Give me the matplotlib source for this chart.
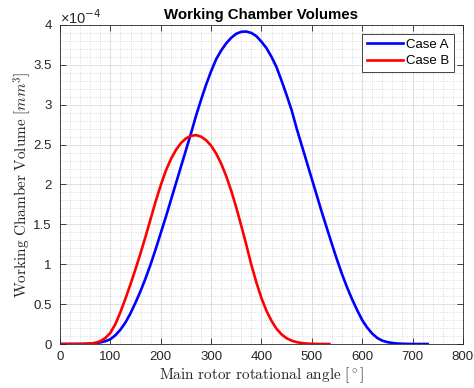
import matplotlib
matplotlib.use("Agg")
import matplotlib.pyplot as plt
from matplotlib.ticker import MultipleLocator, FormatStrFormatter

plt.rcParams["font.family"] = ["Liberation Sans", "DejaVu Sans"]
plt.rcParams["mathtext.fontset"] = "cm"

# rotation angle samples [deg]
angle_a = list(range(0, 740, 10))
angle_b = list(range(0, 540, 10)) + [535]

# working chamber volume, in units of 1e-4 mm^3
volume_a = [
    0, 0, 0, 0, 0.001, 0.002, 0.005, 0.01, 0.02, 0.035,
    0.06, 0.11, 0.18, 0.27, 0.385, 0.52, 0.665, 0.825, 1.00, 1.19,
    1.39, 1.59, 1.80, 2.01, 2.22, 2.43, 2.64, 2.86, 3.06, 3.25,
    3.42, 3.57, 3.68, 3.77, 3.84, 3.89, 3.915, 3.918, 3.90, 3.86,
    3.79, 3.71, 3.60, 3.47, 3.30, 3.12, 2.93, 2.70, 2.49, 2.28,
    2.07, 1.86, 1.65, 1.45, 1.25, 1.057, 0.875, 0.71, 0.56, 0.425,
    0.30, 0.205, 0.13, 0.075, 0.042, 0.023, 0.013, 0.006, 0.003, 0.0012,
    0.0003, 0, 0, 0,
]
volume_b = [
    0, 0, 0, 0, 0, 0.001, 0.005, 0.015, 0.035, 0.075,
    0.14, 0.25, 0.40, 0.57, 0.75, 0.94, 1.14, 1.35, 1.57, 1.79,
    1.99, 2.171, 2.316, 2.431, 2.518, 2.577, 2.61, 2.619, 2.60, 2.556,
    2.487, 2.389, 2.262, 2.105, 1.921, 1.71, 1.481, 1.242, 0.99, 0.77,
    0.575, 0.415, 0.29, 0.19, 0.12, 0.072, 0.042, 0.023, 0.012, 0.0055,
    0.0022, 0.0007, 0, 0, 0,
]

labels = ["Case A", "Case B"]
colors = ["#0000ff", "#ff0000"]

fig = plt.figure(figsize=(4.74, 3.88), dpi=100)
ax = fig.add_axes([0.1266, 0.1134, 0.85, 0.8222])

for ang, vol, lab, col in zip([angle_a, angle_b], [volume_a, volume_b], labels, colors):
    ax.plot(ang, vol, color=col, lw=1.9, label=lab)

ax.set_xlim(0, 800)
ax.set_ylim(0, 4)
ax.xaxis.set_major_locator(MultipleLocator(100))
ax.xaxis.set_minor_locator(MultipleLocator(20))
ax.yaxis.set_major_locator(MultipleLocator(0.5))
ax.yaxis.set_minor_locator(MultipleLocator(0.1))
ax.yaxis.set_major_formatter(FormatStrFormatter("%g"))

# MATLAB-style exponent above the y axis
ax.text(0.0, 0.994, "\u00d710$^{-4}$", transform=ax.transAxes,
        fontsize=10.5, color="0.15", ha="left", va="bottom",
        math_fontfamily="dejavusans")

ax.grid(which="major", color="0.85", lw=0.6)
ax.grid(which="minor", color="0.82", lw=0.6, ls=":")
ax.set_axisbelow(True)

ax.tick_params(which="major", direction="in", top=True, right=True,
               length=4, width=0.6, labelsize=9.5, colors="0.15")
ax.tick_params(axis="y", pad=6)
ax.tick_params(axis="x", pad=5)
ax.tick_params(which="minor", length=0)
for sp in ax.spines.values():
    sp.set_color("0.15")
    sp.set_linewidth(0.6)

ax.set_title("Working Chamber Volumes", fontsize=10.8, fontweight="bold", pad=4)
ax.set_xlabel(r"$\mathrm{Main\ rotor\ rotational\ angle\ [^\circ]}$",
              fontsize=11, color="0.15", labelpad=2)
ax.set_ylabel(r"$\mathrm{Working\ Chamber\ Volume\ [}mm^3\mathrm{]}$",
              fontsize=11, color="0.15", labelpad=0)

leg = ax.legend(loc="upper right", fontsize=9.5, handlelength=2.7,
                fancybox=False, framealpha=1, borderpad=0.35,
                labelspacing=0.3, handletextpad=0.25, borderaxespad=0.7)
leg.get_frame().set_edgecolor("0.15")
leg.get_frame().set_linewidth(0.6)

fig.savefig("out.png", dpi=100)
